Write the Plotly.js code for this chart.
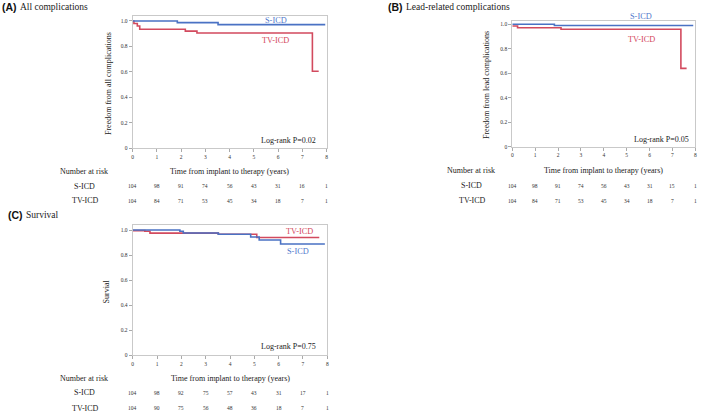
<!DOCTYPE html>
<html><head><meta charset="utf-8">
<script src="https://cdn.plot.ly/plotly-3.0.1.min.js"></script>
<style>html,body{margin:0;padding:0;background:#fff;}#chart{width:709px;height:414px;}</style>
</head><body><div id="chart"></div>
<script>
// ---- Data ----
// Panel A: All complications
const aSicdT = [0, 1.84, 3.52, 7.94];
const aSicdS = [1.0, 0.987, 0.971, 0.971];
const aTvT = [0, 0.05, 0.19, 0.29, 2.17, 2.65, 7.41, 7.67];
const aTvS = [1.0, 0.98, 0.96, 0.935, 0.92, 0.906, 0.605, 0.605];
// Panel B: Lead-related complications
const bSicdT = [0, 1.84, 7.91];
const bSicdS = [1.0, 0.99, 0.99];
const bTvT = [0, 0.23, 2.13, 7.37, 7.62];
const bTvS = [0.986, 0.972, 0.959, 0.64, 0.64];
// Panel C: Survival
const cSicdT = [0, 1.94, 2.08, 3.52, 4.85, 5.2, 6.08, 7.9];
const cSicdS = [1.0, 0.99, 0.976, 0.966, 0.944, 0.92, 0.888, 0.888];
const cTvT = [0, 0.5, 0.71, 3.52, 5.1, 7.67];
const cTvS = [0.995, 0.99, 0.975, 0.966, 0.94, 0.94];

// Number at risk
const riskTimes = [0, 1, 2, 3, 4, 5, 6, 7, 8];
const aRiskSicd = [104, 98, 91, 74, 56, 43, 31, 16, 1];
const aRiskTv   = [104, 84, 71, 53, 45, 34, 18, 7, 1];
const bRiskSicd = [104, 98, 91, 74, 56, 43, 31, 15, 1];
const bRiskTv   = [104, 84, 71, 53, 45, 34, 18, 7, 1];
const cRiskSicd = [104, 98, 92, 75, 57, 43, 31, 17, 1];
const cRiskTv   = [104, 90, 75, 56, 48, 36, 18, 7, 1];

const yTickVals = [0, 0.2, 0.4, 0.6, 0.8, 1.0];
const yTickText = ['0', '0.2', '0.4', '0.6', '0.8', '1.0'];
const xTickVals = [0, 1, 2, 3, 4, 5, 6, 7, 8];

// ---- Styles ----
const W = 709, H = 414;
const SERIF = 'Liberation Serif';
const SANS = 'Liberation Sans';
const BLUE = '#4a72c4', RED = '#d24a5e';
const BLUE_T = '#5079cc', RED_T = '#d4475c';
const px = v => v / W;
const py = v => 1 - v / H;

function line(x, y, color, xa, ya) {
  return {x: x, y: y, type: 'scatter', mode: 'lines', line: {shape: 'hv', color: color, width: 1.6},
          xaxis: xa, yaxis: ya, hoverinfo: 'skip', showlegend: false};
}
const traces = [
  line(aTvT, aTvS, RED, 'x', 'y'), line(aSicdT, aSicdS, BLUE, 'x', 'y'),
  line(bTvT, bTvS, RED, 'x2', 'y2'), line(bSicdT, bSicdS, BLUE, 'x2', 'y2'),
  line(cTvT, cTvS, RED, 'x3', 'y3'), line(cSicdT, cSicdS, BLUE, 'x3', 'y3')
];

function xax(dom, anchor) {
  return {domain: dom, anchor: anchor, range: [0, 8], tickvals: xTickVals, showline: true, mirror: true,
          linecolor: '#c9c9c9', linewidth: 1, ticks: 'outside', ticklen: 3, tickcolor: '#aaa',
          showgrid: false, zeroline: false, fixedrange: true,
          tickfont: {family: SERIF, size: 5.5, color: '#333'}};
}
function yax(dom, anchor, top) {
  return {domain: dom, anchor: anchor, range: [0, top], tickvals: yTickVals, ticktext: yTickText,
          showline: true, mirror: true, linecolor: '#c9c9c9', linewidth: 1, ticks: 'outside', ticklen: 3,
          tickcolor: '#aaa', showgrid: false, zeroline: false, fixedrange: true,
          tickfont: {family: SERIF, size: 5.5, color: '#333'}};
}

const ann = [];
function txt(o) {
  ann.push(Object.assign({showarrow: false, font: {family: SERIF, size: 8, color: '#222'}}, o));
}
function panelLabel(letter, title, x0, xt, yc) {
  txt({text: '<b>(' + letter + ')</b>', xref: 'paper', yref: 'paper', x: px(x0), y: py(yc),
       xanchor: 'left', yanchor: 'middle', font: {family: SANS, size: 10.5, color: '#111'}});
  txt({text: title, xref: 'paper', yref: 'paper', x: px(xt), y: py(yc), xanchor: 'left', yanchor: 'middle',
       font: {family: SERIF, size: 9.5, color: '#222'}});
}
function riskTable(xref, labelX, yTitle, yS, yT, sicd, tv) {
  txt({text: 'Number at risk', xref: 'paper', yref: 'paper', x: px(labelX), y: py(yTitle), xanchor: 'center', yanchor: 'middle'});
  txt({text: 'S-ICD', xref: 'paper', yref: 'paper', x: px(labelX), y: py(yS), xanchor: 'center', yanchor: 'middle'});
  txt({text: 'TV-ICD', xref: 'paper', yref: 'paper', x: px(labelX + 1), y: py(yT), xanchor: 'center', yanchor: 'middle'});
  txt({text: 'Time from implant to therapy (years)', xref: xref, yref: 'paper', x: 4, y: py(yTitle), xanchor: 'center', yanchor: 'middle'});
  riskTimes.forEach((t, i) => {
    txt({text: String(sicd[i]), xref: xref, yref: 'paper', x: t, y: py(yS), xanchor: 'center', yanchor: 'middle',
         font: {family: SERIF, size: 5.5, color: '#333'}});
    txt({text: String(tv[i]), xref: xref, yref: 'paper', x: t, y: py(yT), xanchor: 'center', yanchor: 'middle',
         font: {family: SERIF, size: 5.5, color: '#333'}});
  });
}
function yTitle(text, xc, yc) {
  txt({text: text, xref: 'paper', yref: 'paper', x: px(xc), y: py(yc), textangle: -90, xanchor: 'center', yanchor: 'middle'});
}

// Panel A
panelLabel('A', 'All complications', 0, 18, 7.5);
yTitle('Freedom from all complications', 108, 84);
txt({text: 'S-ICD', xref: 'x', yref: 'y', x: 5.9, y: 1.0, xanchor: 'center', yanchor: 'middle', font: {family: SERIF, size: 8.3, color: BLUE_T}});
txt({text: 'TV-ICD', xref: 'x', yref: 'y', x: 5.9, y: 0.843, xanchor: 'center', yanchor: 'middle', font: {family: SERIF, size: 8.3, color: RED_T}});
txt({text: 'Log-rank P=0.02', xref: 'x', yref: 'y', x: 7.65, y: 0.065, xanchor: 'right', yanchor: 'middle'});
riskTable('x', 84, 171, 186, 201, aRiskSicd, aRiskTv);

// Panel B
panelLabel('B', 'Lead-related complications', 386, 404, 7.5);
yTitle('Freedom from lead complications', 486, 85);
txt({text: 'S-ICD', xref: 'paper', yref: 'paper', x: px(641), y: py(16.7), xanchor: 'center', yanchor: 'middle', font: {family: SERIF, size: 8.3, color: BLUE_T}});
txt({text: 'TV-ICD', xref: 'x2', yref: 'y2', x: 5.63, y: 0.877, xanchor: 'center', yanchor: 'middle', font: {family: SERIF, size: 8.3, color: RED_T}});
txt({text: 'Log-rank P=0.05', xref: 'x2', yref: 'y2', x: 7.8, y: 0.055, xanchor: 'right', yanchor: 'middle'});
riskTable('x2', 471, 170.7, 185.7, 200.7, bRiskSicd, bRiskTv);

// Panel C
panelLabel('C', 'Survival', 6, 24, 215);
yTitle('Survial', 106.7, 291.7);
txt({text: 'TV-ICD', xref: 'x3', yref: 'y3', x: 6.84, y: 0.986, xanchor: 'center', yanchor: 'middle', font: {family: SERIF, size: 8.3, color: RED_T}});
txt({text: 'S-ICD', xref: 'x3', yref: 'y3', x: 6.8, y: 0.832, xanchor: 'center', yanchor: 'middle', font: {family: SERIF, size: 8.3, color: BLUE_T}});
txt({text: 'Log-rank P=0.75', xref: 'x3', yref: 'y3', x: 7.63, y: 0.066, xanchor: 'right', yanchor: 'middle'});
riskTable('x3', 84, 378.3, 392.7, 408.3, cRiskSicd, cRiskTv);

const layout = {
  width: W, height: H, margin: {l: 0, r: 0, t: 0, b: 0},
  paper_bgcolor: '#fff', plot_bgcolor: '#fff', showlegend: false,
  font: {family: SERIF},
  xaxis: xax([px(132.7), px(326.7)], 'y'),
  yaxis: yax([py(148.3), py(16)], 'x', 1.039),
  xaxis2: xax([px(512.3), px(695.3)], 'y2'),
  yaxis2: yax([py(146.7), py(20.7)], 'x2', 1.029),
  xaxis3: xax([px(132.7), px(327.3)], 'y3'),
  yaxis3: yax([py(355), py(225)], 'x3', 1.04),
  annotations: ann
};
Plotly.newPlot('chart', traces, layout, {displayModeBar: false, staticPlot: true});
</script></body></html>
